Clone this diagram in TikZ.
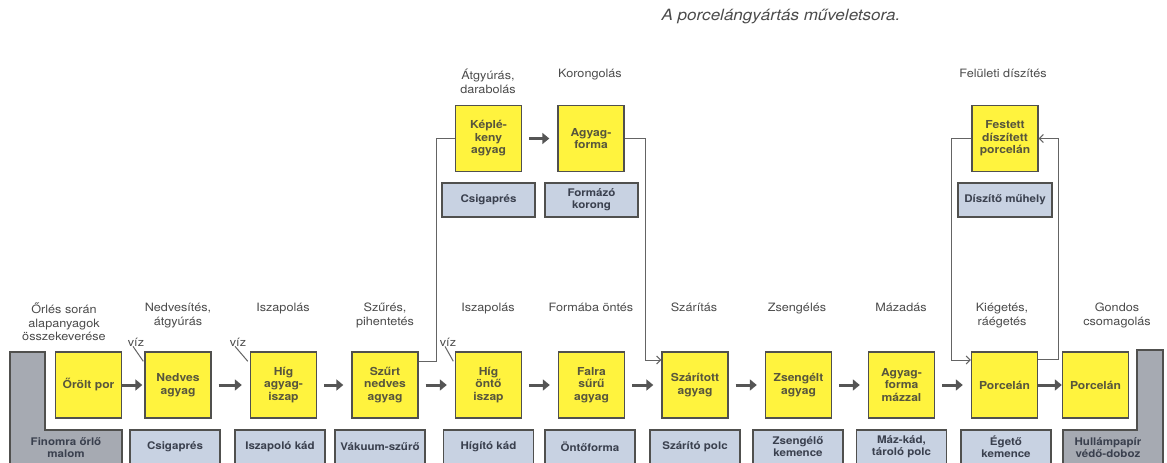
\documentclass[tikz,border=0pt]{standalone}
\usepackage{fontspec}
\setmainfont{TeX Gyre Heros}[FakeStretch=1.1]
\usetikzlibrary{arrows.meta,calc}
\definecolor{yel}{RGB}{255,243,62}
\definecolor{ybord}{RGB}{80,80,78}
\definecolor{ytext}{RGB}{88,86,60}
\definecolor{eqfill}{RGB}{200,210,226}
\definecolor{eqtext}{RGB}{58,64,78}
\definecolor{lfill}{RGB}{166,170,178}
\definecolor{labc}{RGB}{75,75,75}
\definecolor{linec}{RGB}{100,100,100}
\definecolor{arrc}{RGB}{85,85,85}
\begin{document}
\begin{tikzpicture}[x=1pt,y=-1pt,
 ybox/.style={draw=ybord, line width=1.4pt, fill=yel, minimum width=66pt, minimum height=66pt, inner sep=1pt, align=center, text=ytext, font=\fontsize{11}{12.5}\selectfont\bfseries},
 eqbox/.style={draw=ybord, line width=1.2pt, fill=eqfill, minimum width=90pt, minimum height=34pt, inner sep=1pt, align=center, text=eqtext, font=\fontsize{10.5}{12}\selectfont\bfseries},
 lshape/.style={draw=ybord, line width=1.2pt, fill=lfill},
 ltext/.style={align=center, text=eqtext, font=\fontsize{10.5}{12}\selectfont\bfseries, inner sep=0pt},
 lab/.style={align=center, text=labc, font=\fontsize{11.5}{13.5}\selectfont, anchor=north, inner sep=0pt},
 bigarrow/.style={draw=arrc, line width=3pt, -{Triangle[length=7pt,width=11pt]}, shorten <=7pt, shorten >=8pt},
 conn/.style={draw=linec, line width=1pt},
 thinarrow/.style={conn, -{Straight Barb[length=4pt,width=8pt]}},
]
\useasboundingbox (0,0) rectangle (1167,463);
\fill[white] (0,0) rectangle (1167,463);

% title
\node[font=\fontsize{15.5}{17}\selectfont\itshape, text=labc] (title) at (781,17) {A porcelángyártás műveletsora.};

% L-shaped equipment
\path[lshape] (10,352) -- (45,352) -- (45,430) -- (122,430) -- (122,465) -- (10,465) -- cycle;
\node[ltext] (m1) at (66,448) {Finomra őrlő\\malom};
\path[lshape] (1063,430) -- (1137,430) -- (1137,350) -- (1163,350) -- (1163,465) -- (1063,465) -- cycle;
\node[ltext] (m11) at (1108,448) {Hullámpapír\\védő-doboz};

% main row
\node[ybox] (b1) at (88.5,385) {Őrölt por};
\node[ybox] (b2) at (178,385) {Nedves\\agyag};
\node[ybox] (b3) at (283.5,385) {Híg\\agyag-\\iszap};
\node[ybox] (b4) at (385,385) {Szűrt\\nedves\\agyag};
\node[ybox] (b5) at (488.5,385) {Híg\\öntő\\iszap};
\node[ybox] (b6) at (591.5,385) {Falra\\sűrű\\agyag};
\node[ybox] (b7) at (695,385) {Szárított\\agyag};
\node[ybox] (b8) at (798.5,385) {Zsengélt\\agyag};
\node[ybox] (b9) at (901.5,385) {Agyag-\\forma\\mázzal};
\node[ybox] (b10) at (1004.5,385) {Porcelán};
\node[ybox] (b11) at (1095.5,385) {Porcelán};

% equipment row
\node[eqbox] (e2) at (175,447) {Csigaprés};
\node[eqbox] (e3) at (280,447) {Iszapoló kád};
\node[eqbox] (e4) at (380,447) {Vákuum-szűrő};
\node[eqbox] (e5) at (488.5,447) {Hígító kád};
\node[eqbox] (e6) at (590,447) {Öntőforma};
\node[eqbox] (e7) at (695,447) {Szárító polc};
\node[eqbox] (e8) at (798,447) {Zsengélő\\kemence};
\node[eqbox] (e9) at (901.5,447) {Máz-kád,\\tároló polc};
\node[eqbox] (e10) at (1006,447) {Égető\\kemence};

% top row
\node[ybox] (k1) at (488.5,138.5) {Képlé-\\keny\\agyag};
\node[ybox] (k2) at (591,138.5) {Agyag-\\forma};
\node[ybox] (f1) at (1005,138.5) {Festett\\díszített\\porcelán};
\node[eqbox, minimum width=93pt] (t1) at (488.5,200) {Csigaprés};
\node[eqbox, minimum width=93pt] (t2) at (591.5,200) {Formázó\\korong};
\node[eqbox, minimum width=94pt] (t3) at (1005,200) {Díszítő műhely};

% labels
\node[lab] (l1) at (64,303) {Őrlés során\\alapanyagok\\összekeverése};
\node[lab] (l2) at (178,303) {Nedvesítés,\\átgyúrás};
\node[lab] (l3) at (283,303) {Iszapolás};
\node[lab] (l4) at (385,303) {Szűrés,\\pihentetés};
\node[lab] (l5) at (488,303) {Iszapolás};
\node[lab] (l6) at (591,303) {Formába öntés};
\node[lab] (l7) at (694,303) {Szárítás};
\node[lab] (l8) at (797,303) {Zsengélés};
\node[lab] (l9) at (901,303) {Mázadás};
\node[lab] (l10) at (1002,303) {Kiégetés,\\ráégetés};
\node[lab] (l11) at (1117,303) {Gondos\\csomagolás};
\node[lab] (u1) at (488,69) {Átgyúrás,\\darabolás};
\node[lab] (u2) at (590,69) {Korongolás};
\node[lab] (u3) at (1003,69) {Felületi díszítés};

% víz
\node[lab, anchor=center] (v1) at (136,342) {víz};
\node[lab, anchor=center] (v2) at (238,342) {víz};
\node[lab, anchor=center] (v3) at (448,342) {víz};
\coordinate (v1e) at ($(b2.north west)+(-1,10)$);
\coordinate (v2e) at ($(b3.north west)+(-2,10)$);
\coordinate (v3e) at ($(b5.north west)+(-1.5,10)$);
\draw[conn] ([xshift=-3pt]v1.south) -- (v1e);
\draw[conn] ([xshift=-3pt]v2.south) -- (v2e);
\draw[conn] ([xshift=-3pt]v3.south) -- (v3e);

% big arrows
\draw[bigarrow, shorten <=0pt, shorten >=2pt] (b1) -- (b2);
\draw[bigarrow] (b2) -- (b3);
\draw[bigarrow] (b3) -- (b4);
\draw[bigarrow] (b4) -- (b5);
\draw[bigarrow] (b5) -- (b6);
\draw[bigarrow] (b6) -- (b7);
\draw[bigarrow] (b7) -- (b8);
\draw[bigarrow] (b8) -- (b9);
\draw[bigarrow] (b9) -- (b10);
\draw[bigarrow, shorten <=0pt, shorten >=0pt] (b10) -- (b11);
\draw[bigarrow] (k1) -- (k2);

% connectors
\draw[conn] ([yshift=24pt]b4.east) -- ++(18,0) |- (k1.west);
\draw[thinarrow] (k2.east) -- ++(21,0) |- ([yshift=25pt]b7.west);
\draw[thinarrow] (f1.west) -- ++(-20,0) |- ([yshift=25pt]b10.west);
\draw[thinarrow] ([yshift=26pt]b10.east) -- ++(20,0) |- (f1.east);
\end{tikzpicture}
\end{document}
